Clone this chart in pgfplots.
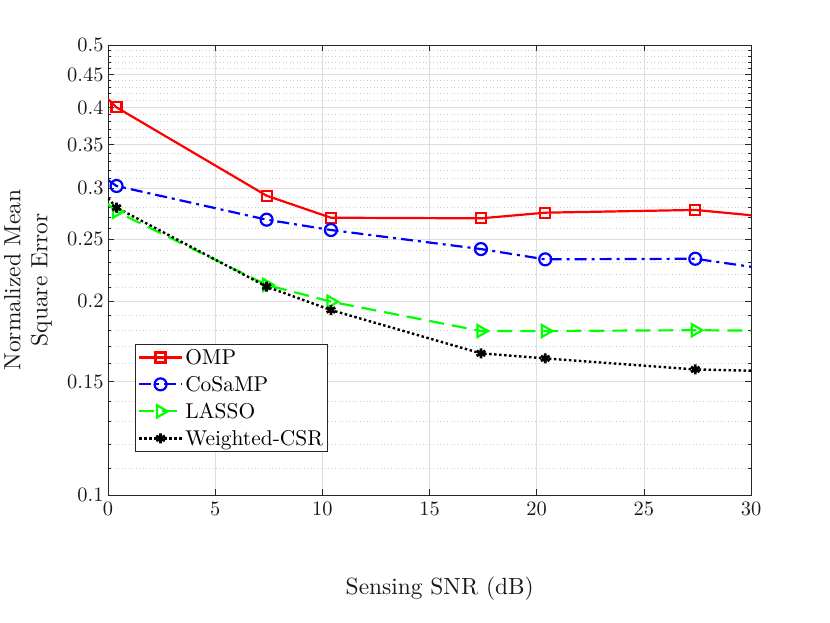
\documentclass[border=0pt]{standalone}
\usepackage{fontspec}
\setmainfont{lmroman10-regular.otf}
\usepackage{pgfplots}
\pgfplotsset{compat=1.18}
\begin{document}
\begin{tikzpicture}
\begin{axis}[
 at={(0,0)}, anchor=south west,
 scale only axis, width=643bp, height=450bp,
 xmin=0, xmax=30, ymin=0.1, ymax=0.5, ymode=log,
 xtick={0,5,...,30},
 ytick={0.1,0.15,0.2,0.25,0.3,0.35,0.4,0.45,0.5},
 yticklabels={0.1,0.15,0.2,0.25,0.3,0.35,0.4,0.45,0.5},
 minor ytick={0.11,0.12,0.13,0.14,0.16,0.17,0.18,0.19,0.21,0.22,0.23,0.24,0.26,0.27,0.28,0.29,0.31,0.32,0.33,0.34,0.36,0.37,0.38,0.39,0.41,0.42,0.43,0.44,0.46,0.47,0.48,0.49},
 /pgf/number format/assume math mode=true,
 tick label style={font=\fontsize{20.5}{24}\selectfont, black!90},
 xticklabel style={yshift=-3bp},
 yticklabel style={xshift=-1bp},
 tick align=inside,
 major tick length=6bp, minor tick length=3bp,
 every tick/.style={black!85, line width=0.6bp},
 axis line style={black!85, line width=0.7bp},
 grid=both,
 major grid style={black!13, line width=0.6bp},
 minor grid style={black!20, line width=0.6bp, dash pattern=on 1bp off 2.5bp},
 xlabel={Sensing SNR (dB)},
 ylabel={Normalized Mean\\Square Error},
 label style={font=\fontsize{23.5}{27}\selectfont, black!90},
 xlabel style={at={(axis description cs:0.516,-0.209)}, anchor=center},
 ylabel style={at={(axis description cs:-0.1244,0.478)}, anchor=center, align=center},
 legend style={at={(axis description cs:0.042,0.0956)}, anchor=south west,
   font=\fontsize{21.5}{25}\selectfont, draw=black!85, line width=0.7bp, fill=white,
   inner xsep=2.5bp, inner ysep=3bp, row sep=6.3bp},
 legend cell align=left,
 legend image code/.code={\draw[mark indices={2}] plot coordinates {(0bp,0bp) (21.5bp,0bp) (43bp,0bp)};},
]
\addplot[red, line width=2.2bp, mark=square, mark size=5bp, mark options={solid}, mark indices={2,3,4,5,6,7}]
 coordinates {(0,0.412) (0.4,0.400) (7.4,0.2917) (10.4,0.2696) (17.4,0.269) (20.4,0.2745) (27.4,0.2772) (30,0.272)};
\addlegendentry{OMP}
\addplot[blue, line width=2.2bp, dash pattern=on 12bp off 5bp on 3bp off 5bp, mark=o, mark size=6bp, mark options={solid}, mark indices={2,3,4,5,6,7}]
 coordinates {(0,0.3085) (0.4,0.302) (7.4,0.2677) (10.4,0.258) (17.4,0.241) (20.4,0.2323) (27.4,0.2328) (30,0.2262)};
\addlegendentry{CoSaMP}
\addplot[green, line width=2.2bp, dash pattern=on 15bp off 8bp, mark=triangle, mark size=7bp, mark options={solid, rotate=-90}, mark indices={2,3,4,5,6,7}]
 coordinates {(0,0.283) (0.4,0.2755) (7.4,0.212) (10.4,0.1997) (17.4,0.1798) (20.4,0.1798) (27.4,0.1803) (30,0.180)};
\addlegendentry{LASSO}
\addplot[black, line width=2.4bp, dash pattern=on 2.5bp off 2.5bp, mark=asterisk, mark size=5bp, mark options={solid, line width=2.8bp}, mark indices={2,3,4,5,6,7}]
 coordinates {(0,0.289) (0.4,0.2795) (7.4,0.2107) (10.4,0.1938) (17.4,0.166) (20.4,0.163) (27.4,0.1567) (30,0.156)};
\addlegendentry{Weighted-CSR}
\end{axis}
\path[use as bounding box] (-108bp,-128bp) rectangle (722bp,495bp);
\end{tikzpicture}
\end{document}
